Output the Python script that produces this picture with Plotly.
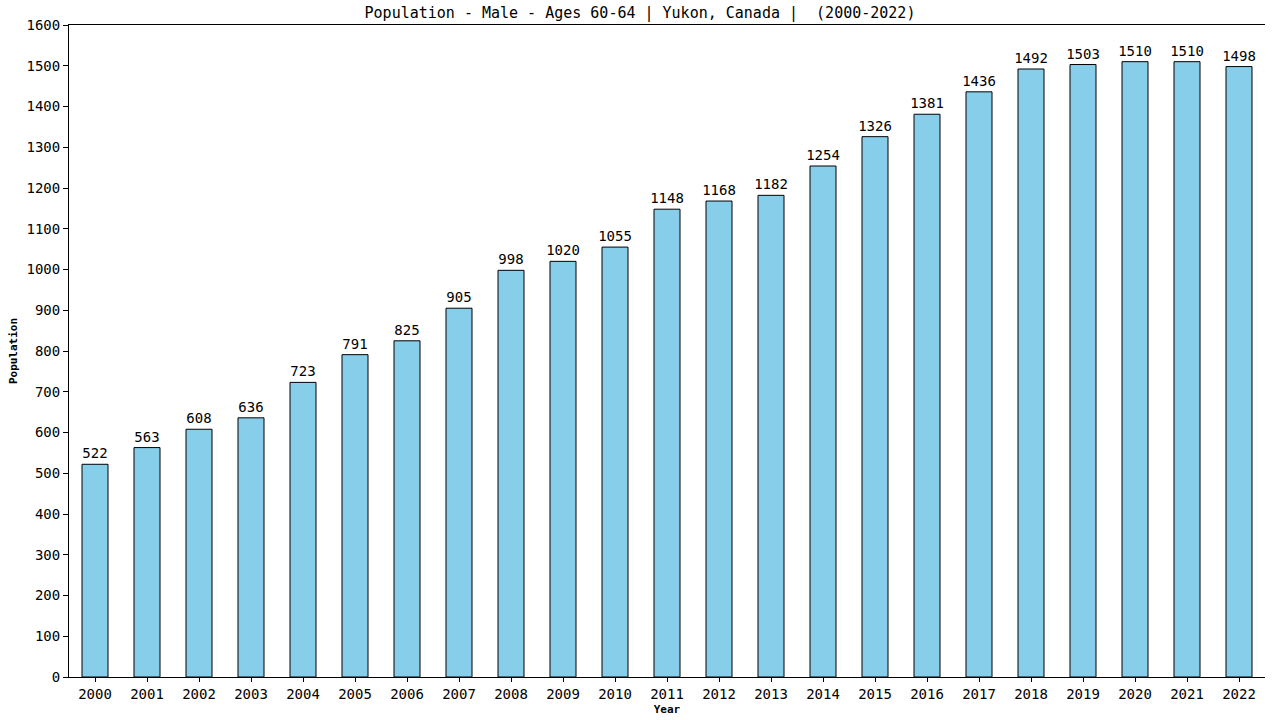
import plotly.graph_objects as go

years = [str(y) for y in range(2000, 2023)]
population = [522, 563, 608, 636, 723, 791, 825, 905, 998, 1020, 1055, 1148, 1168, 1182,
              1254, 1326, 1381, 1436, 1492, 1503, 1510, 1510, 1498]
y_ticks = list(range(0, 1601, 100))

font = "DejaVu Sans Mono"

fig = go.Figure()
fig.add_trace(go.Bar(
    x=years, y=population,
    width=0.5,
    marker=dict(color="#87CEEB", line=dict(color="black", width=1)),
    text=[str(v) for v in population],
    textposition="outside",
    constraintext="none",
    textfont=dict(family=font, size=14, color="black"),
    cliponaxis=False,
))

fig.update_layout(
    width=1280, height=720,
    margin=dict(l=69, r=15, t=25, b=43, autoexpand=False),
    plot_bgcolor="white", paper_bgcolor="white",
    showlegend=False,
    title=dict(text="Population - Male - Ages 60-64 | Yukon, Canada |  (2000-2022)",
               x=0.5, xanchor="center", y=1 - 13 / 720, yanchor="middle",
               font=dict(family=font, size=15, color="black")),
)
fig.update_xaxes(
    type="category", showline=True, linecolor="black", linewidth=1, mirror=True,
    ticks="outside", ticklen=4, tickcolor="black", automargin=False,
    tickfont=dict(family=font, size=14, color="black"),
    title=dict(text="<b>Year</b>", font=dict(family=font, size=11, color="black"), standoff=4),
    showgrid=False,
)
fig.update_yaxes(
    range=[0, 1600], tickvals=y_ticks, showline=True, linecolor="black", linewidth=1,
    ticks="outside", ticklen=5, tickcolor="black", automargin=False,
    tickfont=dict(family=font, size=14, color="black"),
    title=dict(text="<b>Population</b>", font=dict(family=font, size=11, color="black"), standoff=6),
    showgrid=False, zeroline=False,
)

fig.write_html("out.html", config={"displayModeBar": False},
               post_script="document.body.style.margin='0';document.body.style.overflow='hidden';")
